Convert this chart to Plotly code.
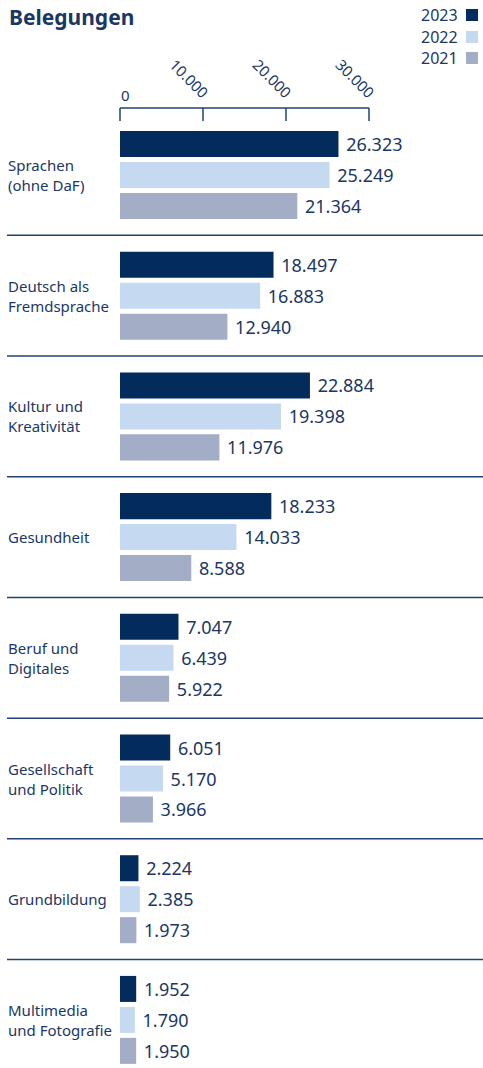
import plotly.graph_objects as go

# ---- data ----
categories = ["Sprachen<br>(ohne DaF)", "Deutsch als<br>Fremdsprache", "Kultur und<br>Kreativität",
              "Gesundheit", "Beruf und<br>Digitales", "Gesellschaft<br>und Politik",
              "Grundbildung", "Multimedia<br>und Fotografie"]
years = ["2023", "2022", "2021"]
v2023 = [26323, 18497, 22884, 18233, 7047, 6051, 2224, 1952]
v2022 = [25249, 16883, 19398, 14033, 6439, 5170, 2385, 1790]
v2021 = [21364, 12940, 11976, 8588, 5922, 3966, 1973, 1950]
tick_values = [0, 10000, 20000, 30000]
title_text = "Belegungen"

# ---- style ----
W, H = 483, 1068
X0_PX, X30_PX = 120, 369          # pixel positions of 0 and 30000
PAD = 3                            # pixels of padding around axis range
scale = (X30_PX - X0_PX) / 30000.0
ML, MR, MT, MB = X0_PX - PAD, W - X30_PX - PAD, 108, 0
PW, PH = W - ML - MR, H - MT - MB
xr = [-PAD / scale, 30000 + PAD / scale]
colors = {"2023": "#032c5c", "2022": "#c5d9f0", "2021": "#a3adc6"}
text_color = "#1b3764"
line_color = "#1f4275"
font_family = "Noto Sans"


def px_x(px):
    return (px - ML) / PW


def px_y(py):
    return 1 - (py - MT) / PH


def fmt(v):
    return f"{v:,}".replace(",", ".")


fig = go.Figure()
series = {"2023": v2023, "2022": v2022, "2021": v2021}
for yr in years:
    vals = series[yr]
    fig.add_trace(go.Bar(
        y=list(range(len(categories))), x=vals, orientation="h", name=yr,
        marker=dict(color=colors[yr], line=dict(width=0)),
        text=["\u00a0" + fmt(v) for v in vals], textposition="outside",
        textfont=dict(size=18, color=text_color, family=font_family),
        cliponaxis=False, showlegend=False, hoverinfo="skip",
    ))

annotations = []
shapes = []

# category labels
for i, c in enumerate(categories):
    annotations.append(dict(x=px_x(6), xref="paper", y=i, yref="y", text=c,
                            xanchor="left", yanchor="middle", align="left", showarrow=False,
                            font=dict(size=15, color=text_color, family=font_family)))

# separators
for i in range(len(categories) - 1):
    shapes.append(dict(type="line", xref="paper", yref="y", x0=px_x(7), x1=px_x(483),
                       y0=i + 0.5, y1=i + 0.5, line=dict(color=line_color, width=1.5)))

# axis line and ticks
shapes.append(dict(type="line", xref="x", yref="paper", x0=tick_values[0], x1=tick_values[-1],
                   y0=1, y1=1, line=dict(color=line_color, width=1.5)))
for t in tick_values:
    shapes.append(dict(type="line", xref="x", yref="paper", x0=t, x1=t,
                       y0=1, y1=px_y(MT + 13), line=dict(color=line_color, width=1.5)))

# tick labels
for t in tick_values:
    if t == 0:
        annotations.append(dict(x=t, xref="x", y=1, yref="paper", text=fmt(t), showarrow=False,
                                xanchor="center", yanchor="middle", xshift=5, yshift=13,
                                font=dict(size=15, color=text_color, family=font_family)))
    else:
        annotations.append(dict(x=t, xref="x", y=1, yref="paper", text=fmt(t), showarrow=False,
                                xanchor="center", yanchor="middle", xshift=-14, yshift=30,
                                textangle=45,
                                font=dict(size=15, color=text_color, family=font_family)))

# title
annotations.append(dict(x=px_x(7), xref="paper", y=px_y(17), yref="paper", text="<b>" + title_text + "</b>",
                        showarrow=False, xanchor="left", yanchor="middle",
                        font=dict(size=21, color=text_color, family=font_family)))

# legend
leg_rows = [15, 37, 58]
for yr, py in zip(years, leg_rows):
    annotations.append(dict(x=px_x(460), xref="paper", y=px_y(py), yref="paper", text=yr,
                            showarrow=False, xanchor="right", yanchor="middle",
                            font=dict(size=16, color=text_color, family=font_family)))
    shapes.append(dict(type="rect", xref="paper", yref="paper", x0=px_x(466), x1=px_x(478),
                       y0=px_y(py - 6), y1=px_y(py + 6), fillcolor=colors[yr], line=dict(width=0)))

pitch = 120.7
p_top = -0.5 - (175 - pitch / 2 - MT) / pitch
p_bot = p_top + PH / pitch

fig.update_layout(
    width=W, height=H, margin=dict(l=ML, r=MR, t=MT, b=MB),
    paper_bgcolor="white", plot_bgcolor="white",
    barmode="group", bargap=0.23, bargroupgap=0.16,
    separators=",.",
    font=dict(family=font_family, color=text_color),
    xaxis=dict(range=xr, showgrid=False, zeroline=False, showline=False,
               ticks="", showticklabels=False, fixedrange=True),
    yaxis=dict(range=[p_bot, p_top], showgrid=False, zeroline=False, showline=False,
               showticklabels=False, ticks="", fixedrange=True),
    annotations=annotations, shapes=shapes, showlegend=False,
)

fig.write_html("out.html")
